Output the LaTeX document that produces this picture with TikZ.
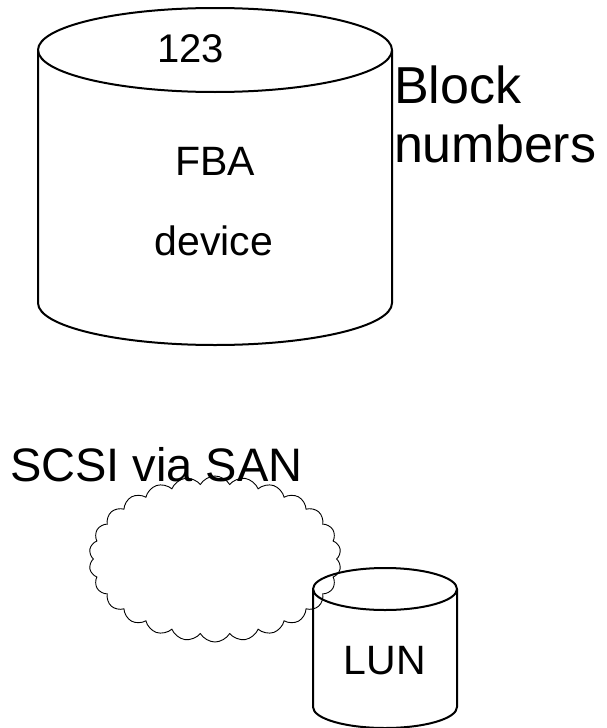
\documentclass[tikz,border=0pt]{standalone}
\usepackage{fontspec}
\setmainfont{Liberation Sans}
\usetikzlibrary{shapes.symbols}
\tikzset{
  drum/.style={line width=2pt, line join=round},
  puffy/.style={cloud, draw, line width=0.9pt, cloud puffs=26, cloud puff arc=120,
    inner sep=0pt, minimum width=252pt, minimum height=166pt},
  lbl/.style={inner sep=0pt, outer sep=0pt},
}
\newcommand{\fsz}[1]{\fontsize{#1}{#1}\selectfont}
\begin{document}
\begin{tikzpicture}[x=1pt, y=-1pt]
  \useasboundingbox (0,0) rectangle (607,728);

  % large FBA cylinder
  \coordinate (ftl) at (38,50);
  \coordinate (ftr) at (392,50);
  \coordinate (fbl) at (38,303);
  \draw[drum] (215,50) ellipse [x radius=177, y radius=42];
  \draw[drum] (ftl) -- (fbl) arc[start angle=180, end angle=360, x radius=177, y radius=-42] -- (ftr);

  \node[lbl, anchor=base west] (num) at (157,62) {\fsz{40}123};
  \node[lbl, anchor=base] (fba) at (215,175) {\fsz{41}FBA};
  \node[lbl, anchor=base] (dev) at (214,255) {\fsz{41}device};
  \node[lbl, anchor=base west] (blk) at (394,103) {\fsz{52}Block};
  \node[lbl, anchor=base west] (nums) at (394,162) {\fsz{52}numbers};

  % LUN cylinder
  \coordinate (ltl) at (313,589);
  \coordinate (ltr) at (457,589);
  \coordinate (lbl) at (313,707);
  \draw[drum] (385,589) ellipse [x radius=72, y radius=21];
  \draw[drum] (ltl) -- (lbl) arc[start angle=180, end angle=360, x radius=72, y radius=-21] -- (ltr);
  \node[lbl, anchor=base] (lun) at (385,674) {\fsz{41}LUN};

  % SAN cloud
  \node[puffy] (san) at (215,559) {};
  \node[lbl, anchor=base west] (scsi) at (10,481) {\fsz{47}SCSI via SAN};
\end{tikzpicture}
\end{document}
